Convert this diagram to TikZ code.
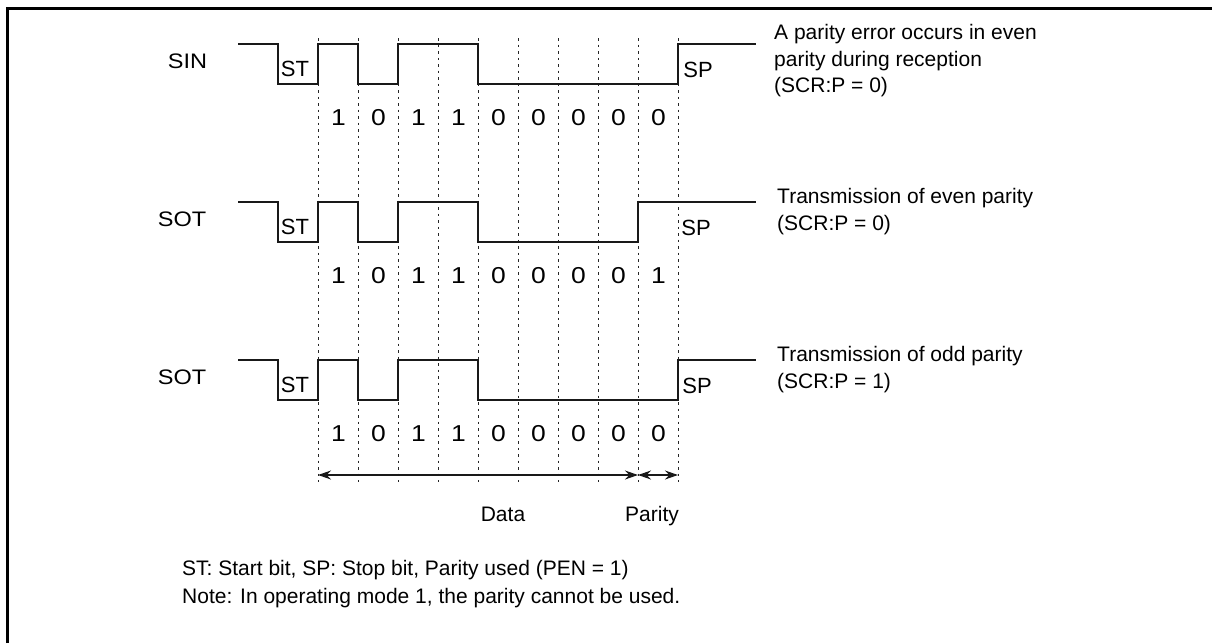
\documentclass[tikz,border=0pt]{standalone}
\usepackage{fontspec}
\setmainfont{Liberation Sans}
\usepackage{graphicx}
\usetikzlibrary{arrows.meta}
\newcommand{\widebit}[1]{\scalebox{1.15}[1]{#1}}
\newcommand{\widesig}[1]{\scalebox{1.12}[1]{#1}}
\begin{document}
\begin{tikzpicture}[x=1pt,y=-1pt,
  wave/.style={line width=2.5pt, line join=miter, color=black!90},
  gridline/.style={line width=1pt, dash pattern=on 2.5pt off 4pt, color=black!85},
  txt/.style={inner sep=0pt, font=\fontsize{21}{26.7}\selectfont},
  sig/.style={txt, anchor=base},
  stsp/.style={inner sep=0pt, anchor=base, font=\fontsize{22}{24}\selectfont},
  bitval/.style={inner sep=0pt, anchor=base, font=\fontsize{23}{25}\selectfont},
  desc/.style={txt, anchor=base west, align=left},
  spanarrow/.style={line width=1.3pt, color=black!90, {Stealth[length=13pt,width=9pt]}-{Stealth[length=13pt,width=9pt]}}
]
\useasboundingbox (0,0) rectangle (1212,643);
\draw[line width=3pt] (7.5,643) -- (7.5,8) -- (1212,8);

% dotted bit boundaries
\foreach \i in {0,...,9} {
  \draw[gridline] (318+40*\i,38) -- (318+40*\i,482);
}

% waveforms
\foreach \r/\p in {0/678, 158/638, 316/678} {
  \pgfmathsetmacro{\h}{43.8+\r}
  \pgfmathsetmacro{\l}{84+\r}
  \draw[wave] (238,\h) -- (278,\h) -- (278,\l) -- (318,\l) -- (318,\h) -- (358,\h) -- (358,\l)
     -- (398,\l) -- (398,\h) -- (478,\h) -- (478,\l) -- (\p,\l) -- (\p,\h) -- (756,\h);
}

% signal names
\node[sig] (sin)  at (187.5,68.3)  {\widesig{SIN}};
\node[sig] (sot1) at (182,226.3) {\widesig{SOT}};
\node[sig] (sot2) at (182,384.3) {\widesig{SOT}};

% ST / SP marks
\node[stsp] (st1) at (295,76)  {ST};
\node[stsp] (st2) at (295,234) {ST};
\node[stsp] (st3) at (295,392) {ST};
\node[stsp] (sp1) at (698,77)  {SP};
\node[stsp] (sp2) at (696,235) {SP};
\node[stsp] (sp3) at (697,393) {SP};

% bit values
\foreach \v [count=\k from 0] in {1,0,1,1,0,0,0,0,0} {
  \node[bitval] (ba\k) at (338.5+40*\k,125) {\widebit{\v}};
}
\foreach \v [count=\k from 0] in {1,0,1,1,0,0,0,0,1} {
  \node[bitval] (bb\k) at (338.5+40*\k,283) {\widebit{\v}};
}
\foreach \v [count=\k from 0] in {1,0,1,1,0,0,0,0,0} {
  \node[bitval] (bc\k) at (338.5+40*\k,441) {\widebit{\v}};
}

% descriptions (anchor at the baseline of the last line)
\node[desc] (d1) at (774,92.7) {A parity error occurs in even\\parity during reception\\(SCR:P = 0)};
\node[desc] (d2) at (777,230) {Transmission of even parity\\(SCR:P = 0)};
\node[desc] (d3) at (777,388) {Transmission of odd parity\\(SCR:P = 1)};

% data / parity spans
\coordinate (ds) at (318,475);
\coordinate (de) at (638,475);
\coordinate (pe) at (678,475);
\draw[spanarrow] (ds) -- (de);
\draw[spanarrow] (de) -- (pe);
\node[sig] (data) at (503,521.7) {Data};
\node[sig] (par) at (652,521.7) {Parity};

% footnotes
\node[desc] (f1) at (182,575) {ST: Start bit, SP: Stop bit, Parity used (PEN = 1)};
\node[desc] (f2) at (182,603) {Note: In operating mode 1, the parity cannot be used.};
\end{tikzpicture}
\end{document}
